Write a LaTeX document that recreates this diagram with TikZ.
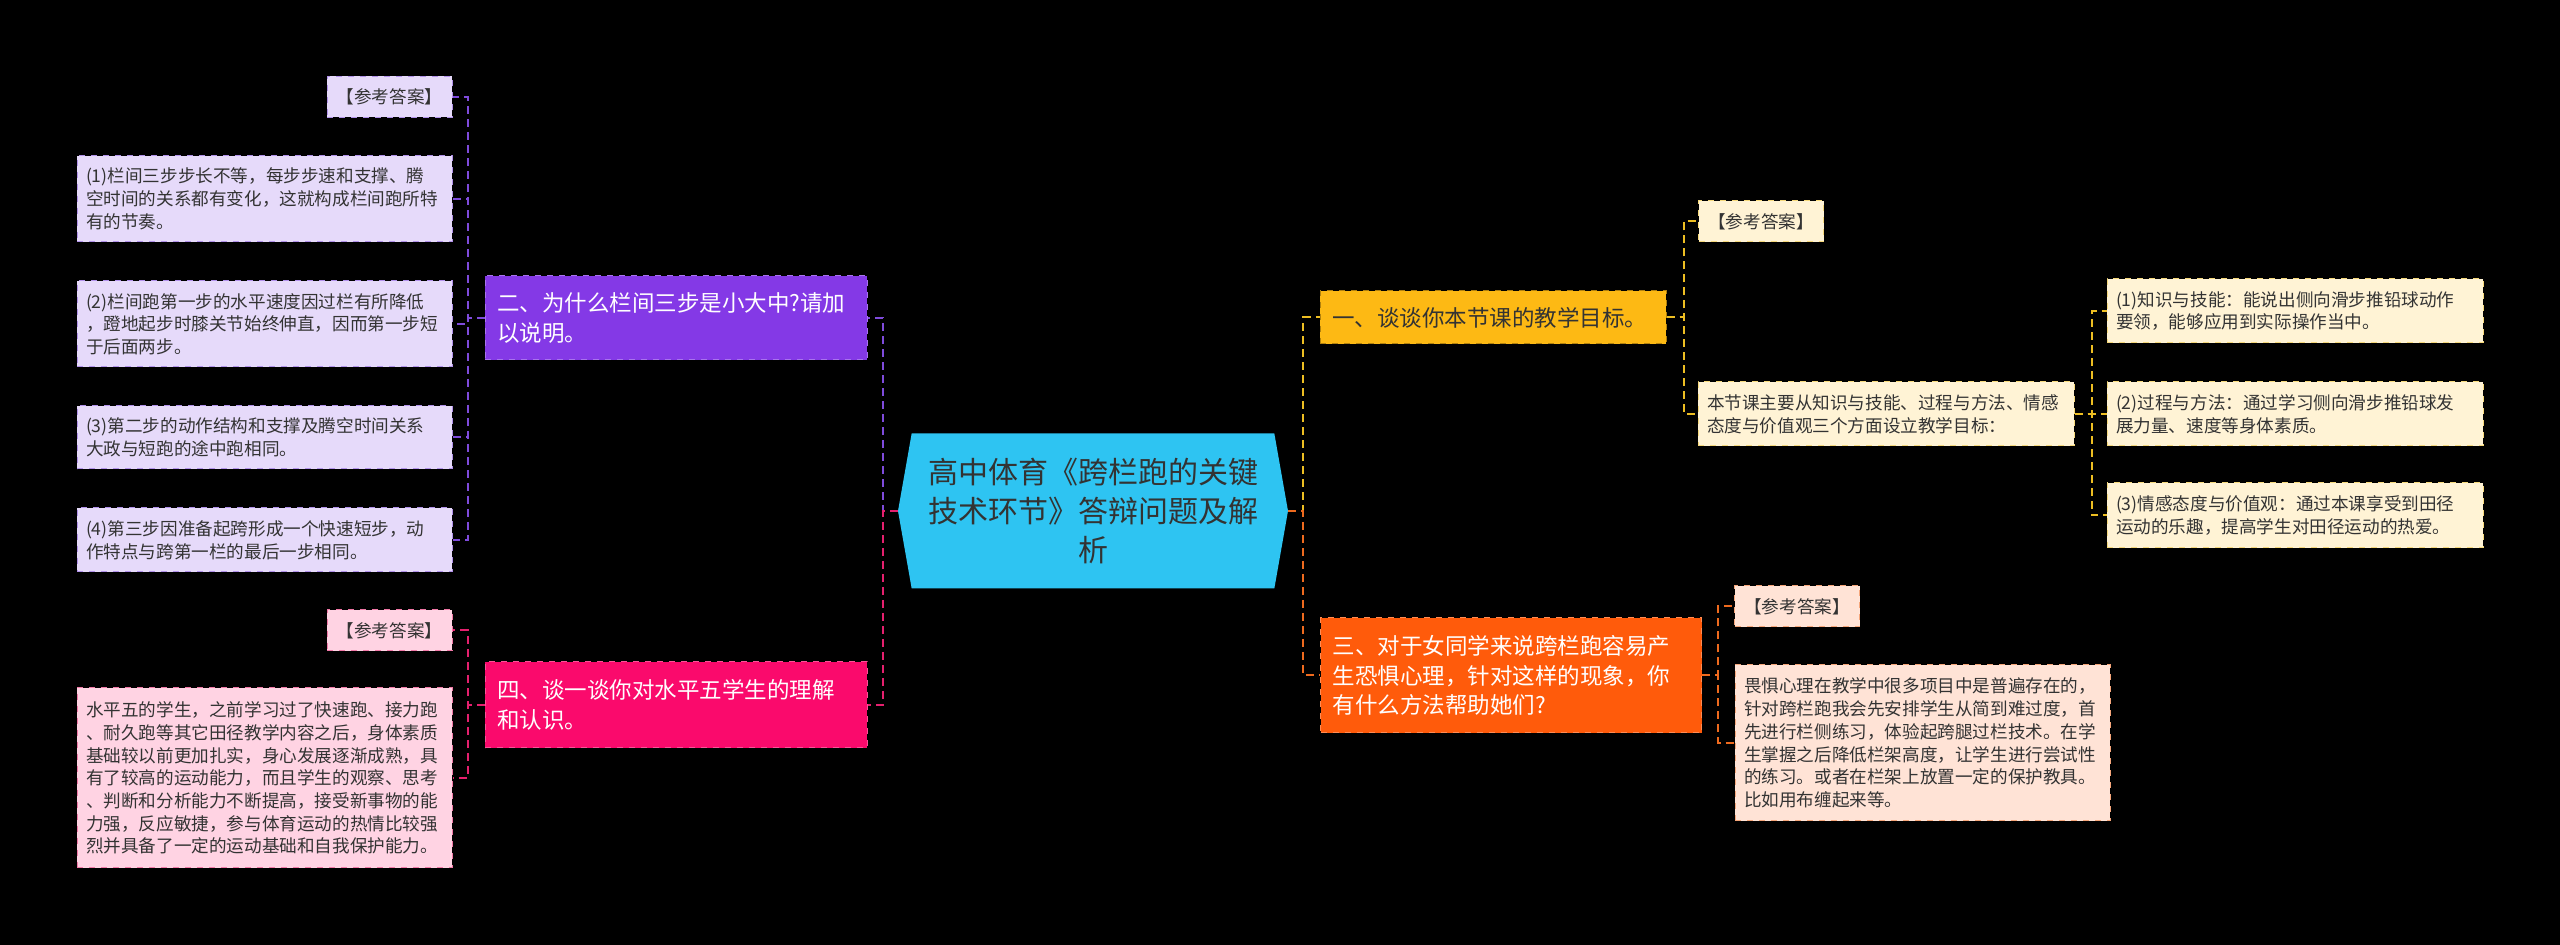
\documentclass[tikz,border=0pt]{standalone}
\usepackage{fontspec}
\setmainfont{Noto Sans CJK SC}
\usetikzlibrary{shapes.symbols}
\definecolor{rootcol}{HTML}{2EC4F2}
\definecolor{ink}{HTML}{333333}
\definecolor{twocol}{HTML}{8439E6}
\definecolor{twoleaf}{HTML}{E6DAFA}
\definecolor{twoline}{HTML}{7F4BDC}
\definecolor{fourcol}{HTML}{FA0A6C}
\definecolor{fourleaf}{HTML}{FFD3E3}
\definecolor{fourline}{HTML}{E5206E}
\definecolor{onecol}{HTML}{FDB914}
\definecolor{oneleaf}{HTML}{FFF3D5}
\definecolor{oneline}{HTML}{EDBE22}
\definecolor{threecol}{HTML}{FF5B0B}
\definecolor{threeleaf}{HTML}{FFE3D6}
\definecolor{threeline}{HTML}{EE6A1E}

\begin{document}
\begin{tikzpicture}[x=0.5pt,y=-0.5pt]
    \tikzset{
        root/.style={shape=signal, signal to=east and west, signal pointer angle=160, fill=rootcol, text=ink, minimum width=195pt, minimum height=77.5pt, text width=172pt, align=center, inner sep=0pt, font=\fontsize{15}{19.3}\selectfont},
        topic/.style={draw, dashed, line width=0.5pt, text width=#1, inner xsep=6pt, inner ysep=0pt, align=left, font=\fontsize{11.25}{14.75}\selectfont},
        leaf/.style={draw, dashed, line width=0.5pt, text width=#1, inner xsep=4.5pt, inner ysep=0pt, align=left, text=ink, font=\fontsize{8.8}{11.35}\selectfont},
        answer/.style={leaf=53.5pt, align=center, minimum height=20.5pt},
        link/.style={dash pattern=on 4pt off 2.5pt, line width=1pt}
    }

    \fill[black] (0,0) rectangle (2560,945);

    \draw node[root] (root) at (1093,511) {高中体育《跨栏跑的关键\\技术环节》答辩问题及解\\析};

    \draw node[topic=179pt, fill=twocol, draw=twocol!70!white, text=white, minimum height=42pt] (q2) at (676,318) {二、为什么栏间三步是小大中?请加\\以说明。};
    \draw node[topic=179pt, fill=fourcol, draw=fourcol!70!white, text=white, minimum height=43pt] (q4) at (676,705) {四、谈一谈你对水平五学生的理解\\和认识。};
    \draw node[topic=161pt, fill=onecol, draw=onecol!70!black, text=ink, minimum height=26.5pt] (q1) at (1493,317.5) {一、谈谈你本节课的教学目标。};
    \draw node[topic=178.5pt, fill=threecol, draw=threecol!70!white, text=white, minimum height=57.5pt] (q3) at (1511,675.5) {三、对于女同学来说跨栏跑容易产\\生恐惧心理，针对这样的现象，你\\有什么方法帮助她们?};

    \draw node[answer, fill=twoleaf, draw=twoline!50!twoleaf] (a2) at (389.5,97) {【参考答案】};
    \draw node[leaf=178.5pt, fill=twoleaf, draw=twoline!50!twoleaf, minimum height=43pt] (b21) at (264.5,199) {(1)栏间三步步长不等，每步步速和支撑、腾\\空时间的关系都有变化，这就构成栏间跑所特\\有的节奏。};
    \draw node[leaf=178.5pt, fill=twoleaf, draw=twoline!50!twoleaf, minimum height=43pt] (b22) at (264.5,324) {(2)栏间跑第一步的水平速度因过栏有所降低\\，蹬地起步时膝关节始终伸直，因而第一步短\\于后面两步。};
    \draw node[leaf=178.5pt, fill=twoleaf, draw=twoline!50!twoleaf, minimum height=31.5pt] (b23) at (264.5,437.5) {(3)第二步的动作结构和支撑及腾空时间关系\\大政与短跑的途中跑相同。};
    \draw node[leaf=178.5pt, fill=twoleaf, draw=twoline!50!twoleaf, minimum height=32pt] (b24) at (264.5,540) {(4)第三步因准备起跨形成一个快速短步，动\\作特点与跨第一栏的最后一步相同。};

    \draw node[answer, fill=fourleaf, draw=fourline!50!fourleaf] (a4) at (389.5,630.5) {【参考答案】};
    \draw node[leaf=178.5pt, fill=fourleaf, draw=fourline!50!fourleaf, minimum height=90pt] (b41) at (264.5,778) {水平五的学生，之前学习过了快速跑、接力跑\\、耐久跑等其它田径教学内容之后，身体素质\\基础较以前更加扎实，身心发展逐渐成熟，具\\有了较高的运动能力，而且学生的观察、思考\\、判断和分析能力不断提高，接受新事物的能\\力强，反应敏捷，参与体育运动的热情比较强\\烈并具备了一定的运动基础和自我保护能力。};

    \draw node[answer, fill=oneleaf, draw=oneline!50!oneleaf] (a1) at (1761,221.5) {【参考答案】};
    \draw node[leaf=179pt, fill=oneleaf, draw=oneline!50!oneleaf, minimum height=32pt] (b1) at (1886,414) {本节课主要从知识与技能、过程与方法、情感\\态度与价值观三个方面设立教学目标：};
    \draw node[leaf=179pt, fill=oneleaf, draw=oneline!50!oneleaf, minimum height=32pt] (c11) at (2295,311) {(1)知识与技能：能说出侧向滑步推铅球动作\\要领，能够应用到实际操作当中。};
    \draw node[leaf=179pt, fill=oneleaf, draw=oneline!50!oneleaf, minimum height=32pt] (c12) at (2295,414) {(2)过程与方法：通过学习侧向滑步推铅球发\\展力量、速度等身体素质。};
    \draw node[leaf=179pt, fill=oneleaf, draw=oneline!50!oneleaf, minimum height=32.5pt] (c13) at (2295,515.5) {(3)情感态度与价值观：通过本课享受到田径\\运动的乐趣，提高学生对田径运动的热爱。};

    \draw node[answer, fill=threeleaf, draw=threeline!50!threeleaf] (a3) at (1797,606.5) {【参考答案】};
    \draw node[leaf=178.5pt, fill=threeleaf, draw=threeline!50!threeleaf, minimum height=78pt] (b3) at (1922.5,743) {畏惧心理在教学中很多项目中是普遍存在的，\\针对跨栏跑我会先安排学生从简到难过度，首\\先进行栏侧练习，体验起跨腿过栏技术。在学\\生掌握之后降低栏架高度，让学生进行尝试性\\的练习。或者在栏架上放置一定的保护教具。\\比如用布缠起来等。};

    \foreach \x/\y/\c/\d in {%
        root/q2/twoline/15, root/q4/fourline/15,
        q2/a2/twoline/17, q2/b21/twoline/17, q2/b22/twoline/17, q2/b23/twoline/17, q2/b24/twoline/17,
        q4/a4/fourline/17, q4/b41/fourline/17%
    }{
        \draw[link, draw=\c] (\x.west) -- ++(-\d,0) |- (\y.east);
    }
    \foreach \x/\y/\c/\d in {%
        root/q1/oneline/15, root/q3/threeline/15,
        q1/a1/oneline/17, q1/b1/oneline/17,
        b1/c11/oneline/17, b1/c12/oneline/17, b1/c13/oneline/17,
        q3/a3/threeline/16, q3/b3/threeline/16%
    }{
        \draw[link, draw=\c] (\x.east) -- ++(\d,0) |- (\y.west);
    }
\end{tikzpicture}
\end{document}
